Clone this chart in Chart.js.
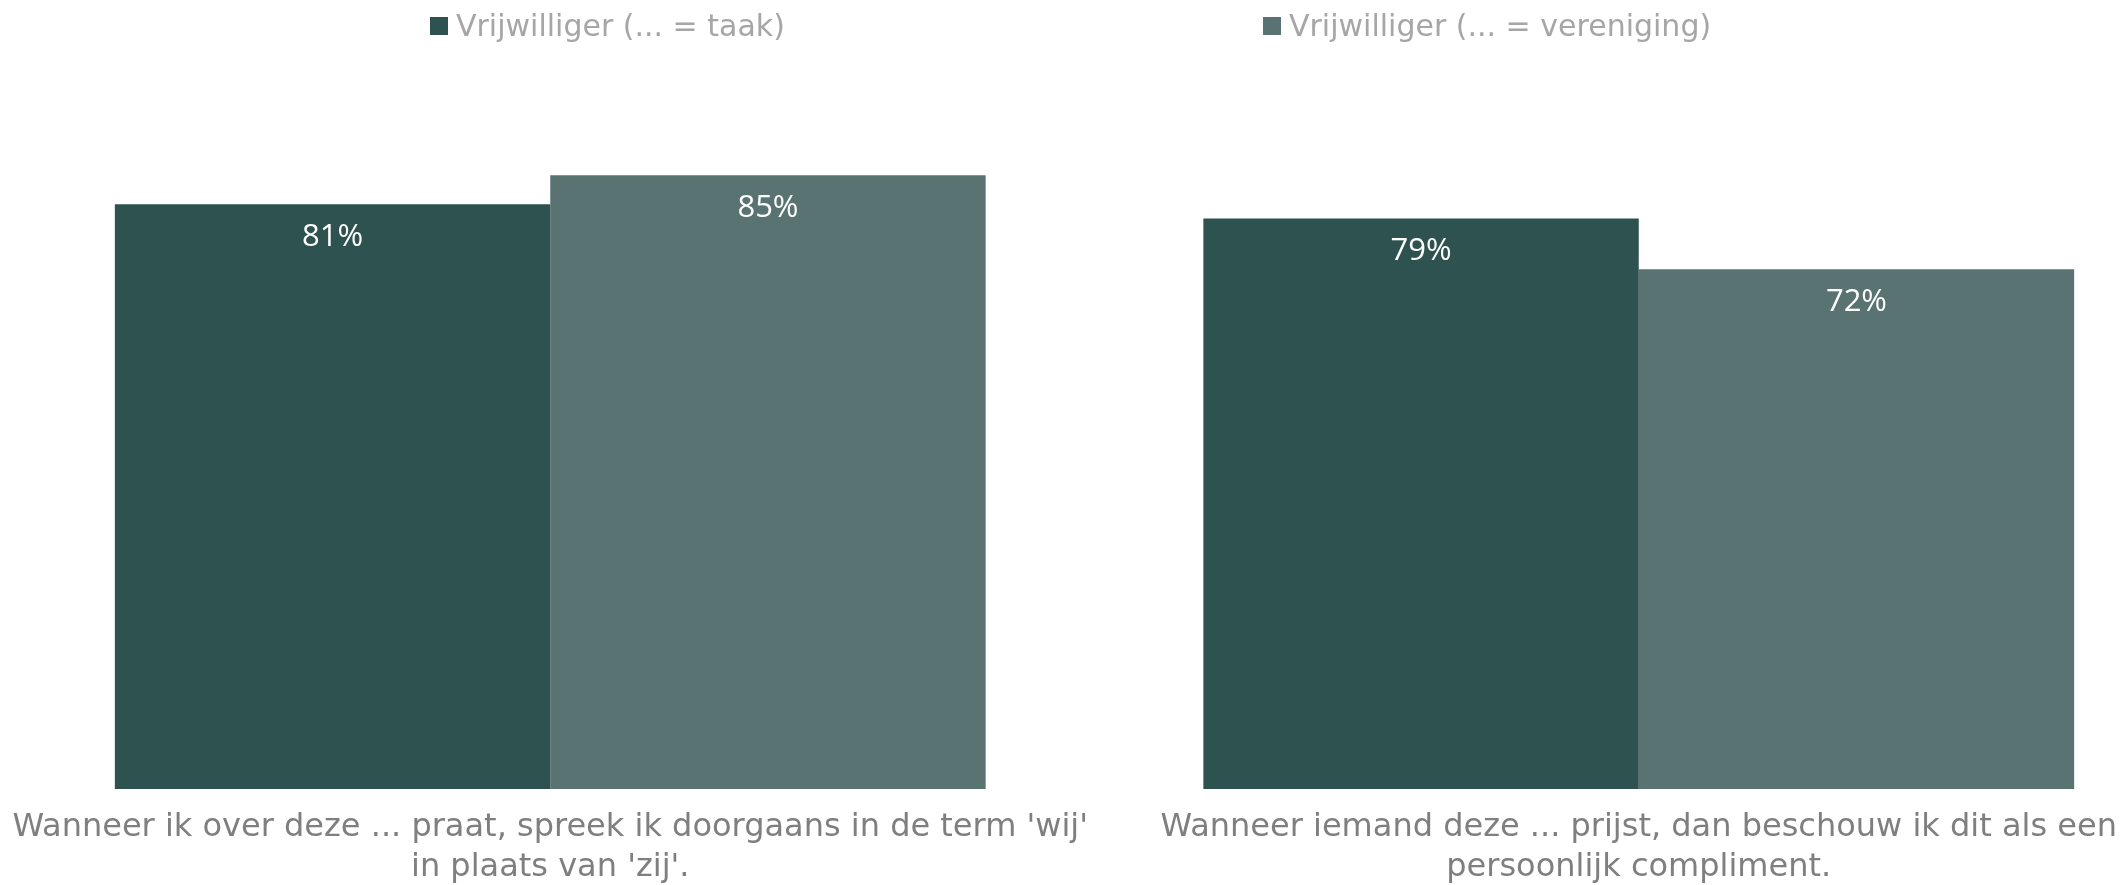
<!DOCTYPE html>
<html>
<head>
<meta charset="utf-8">
<script src="https://cdn.jsdelivr.net/npm/chart.js@4/dist/chart.umd.min.js"></script>
<style>
  html, body { margin: 0; padding: 0; background: #fff; overflow: hidden; }
  #wrap { position: relative; width: 2121px; height: 885px; overflow: hidden; }
  #chart { position: absolute; left: -30px; top: 0; }
  .legend-item {
    position: absolute; top: 8px; display: flex; align-items: center;
    font-family: "DejaVu Sans", sans-serif; font-size: 30px; color: #a6a6a6; white-space: nowrap;
  }
  .legend-item .box { width: 18px; height: 18px; margin-right: 8px; }
</style>
</head>
<body>
<div id="wrap">
  <canvas id="chart" width="2214" height="885"></canvas>
</div>
<script>
const categories = [
  ["Wanneer ik over deze ... praat, spreek ik doorgaans in de term 'wij'", "in plaats van 'zij'."],
  ["Wanneer iemand deze ... prijst, dan beschouw ik dit als een", "persoonlijk compliment."]
];
const seriesNames = ["Vrijwilliger (... = taak)", "Vrijwilliger (... = vereniging)"];
const taakValues = [81, 79];
const verenigingValues = [85, 72];
const seriesColors = ["#2e5250", "#587372"];
const legendLeft = [430, 1263];

// legend drawn as html, spread out like the original
const wrap = document.getElementById("wrap");
seriesNames.forEach((name, i) => {
  const item = document.createElement("div");
  item.className = "legend-item";
  item.style.left = legendLeft[i] + "px";
  item.innerHTML = '<span class="box" style="background:' + seriesColors[i] + '"></span>' + name;
  wrap.appendChild(item);
});

const valueLabels = {
  id: "valueLabels",
  afterDatasetsDraw(chart) {
    const ctx = chart.ctx;
    ctx.save();
    ctx.fillStyle = "#ffffff";
    ctx.font = "31px 'Open Sans'";
    ctx.textAlign = "center";
    ctx.textBaseline = "middle";
    chart.data.datasets.forEach((ds, i) => {
      chart.getDatasetMeta(i).data.forEach((bar, j) => {
        ctx.fillText(ds.data[j] + "%", bar.x, bar.y + 33);
      });
    });
    ctx.restore();
  }
};

new Chart(document.getElementById("chart"), {
  type: "bar",
  data: {
    labels: categories,
    datasets: [
      { label: seriesNames[0], data: taakValues, backgroundColor: seriesColors[0], borderWidth: 0 },
      { label: seriesNames[1], data: verenigingValues, backgroundColor: seriesColors[1], borderWidth: 0 }
    ]
  },
  plugins: [valueLabels],
  options: {
    responsive: false,
    animation: false,
    categoryPercentage: 0.8,
    barPercentage: 1.0,
    layout: { padding: { top: 67, left: 36, right: 1, bottom: 0 } },
    plugins: {
      legend: { display: false },
      tooltip: { enabled: false }
    },
    scales: {
      x: {
        grid: { display: false, drawTicks: false },
        border: { display: false },
        afterFit: (scale) => { scale.height = 96; },
        ticks: {
          color: "#7f7f7f",
          font: { family: "DejaVu Sans", size: 32, lineHeight: 1.25 },
          padding: 19,
          maxRotation: 0,
          autoSkip: false
        }
      },
      y: {
        display: false,
        min: 0,
        max: 100
      }
    }
  }
});
</script>
</body>
</html>
